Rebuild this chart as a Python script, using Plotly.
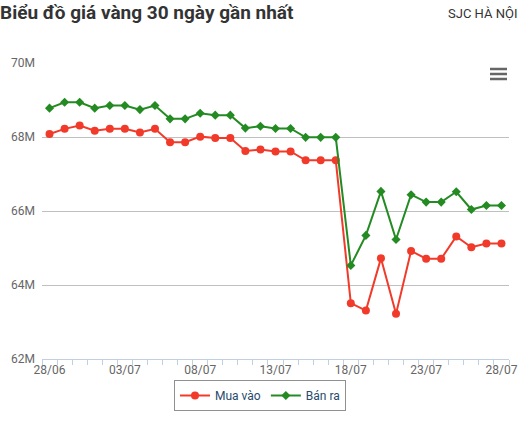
import plotly.graph_objects as go

dates = ["28/06", "29/06", "30/06", "01/07", "02/07", "03/07", "04/07", "05/07", "06/07", "07/07",
         "08/07", "09/07", "10/07", "11/07", "12/07", "13/07", "14/07", "15/07", "16/07", "17/07",
         "18/07", "19/07", "20/07", "21/07", "22/07", "23/07", "24/07", "25/07", "26/07", "27/07", "28/07"]

mua_vao = [68.08, 68.22, 68.31, 68.17, 68.22, 68.22, 68.12, 68.22, 67.86, 67.86,
           68.01, 67.97, 67.97, 67.62, 67.66, 67.61, 67.61, 67.37, 67.37, 67.37,
           63.51, 63.31, 64.72, 63.22, 64.92, 64.71, 64.71, 65.31, 65.02, 65.12, 65.12]

ban_ra = [68.78, 68.94, 68.94, 68.78, 68.85, 68.85, 68.74, 68.85, 68.49, 68.49,
          68.64, 68.59, 68.59, 68.24, 68.29, 68.23, 68.23, 67.99, 67.99, 67.99,
          64.53, 65.34, 66.53, 65.23, 66.44, 66.24, 66.24, 66.52, 66.04, 66.15, 66.15]

y_ticks = [62, 64, 66, 68, 70]
y_tick_labels = ["62M", "64M", "66M", "68M", "70M"]
x_tick_labels = [d if i % 5 == 0 else "" for i, d in enumerate(dates)]

title_text = "Biểu đồ giá vàng 30 ngày gần nhất"
subtitle_text = "SJC HÀ NỘI"

RED = "#f23a2b"
GREEN = "#238b22"

fig = go.Figure()
fig.add_trace(go.Scatter(
    x=dates, y=mua_vao, name="Mua vào", mode="lines+markers",
    line=dict(color=RED, width=2),
    marker=dict(symbol="circle", size=8, color=RED),
))
fig.add_trace(go.Scatter(
    x=dates, y=ban_ra, name="Bán ra", mode="lines+markers",
    line=dict(color=GREEN, width=2),
    marker=dict(symbol="diamond", size=7, color=GREEN),
))

W, H = 520, 423
L, R, T, B = 42, 11, 63, 64
pw, ph = W - L - R, H - T - B

def px(x):
    return (x - L) / pw

def py(y):
    return (H - B - y) / ph

shapes = []
for yy in (69, 74, 79):
    shapes.append(dict(type="line", xref="paper", yref="paper",
                       x0=px(490), x1=px(507), y0=py(yy), y1=py(yy),
                       line=dict(color="#666666", width=2.5)))

fig.update_layout(
    width=W, height=H,
    margin=dict(l=L, r=R, t=T, b=B, autoexpand=False),
    paper_bgcolor="white", plot_bgcolor="white",
    font=dict(family="Roboto", size=12, color="#666666"),
    title=dict(text=title_text, x=0, xref="container", xanchor="left",
               y=1 - 12 / H, yref="container", yanchor="middle",
               font=dict(family="Roboto", size=19, color="#333333", weight="bold")),
    annotations=[dict(text=subtitle_text, xref="paper", yref="paper",
                      x=px(519), y=py(13), xanchor="right", yanchor="middle",
                      showarrow=False,
                      font=dict(family="Roboto", size=13, color="#333333"))],
    xaxis=dict(
        type="category", categoryorder="array", categoryarray=dates,
        range=[-0.5, len(dates) - 0.5],
        tickvals=dates, ticktext=x_tick_labels, tickson="boundaries",
        tickangle=0,
        ticks="outside", ticklen=5, tickcolor="#c0d0e0", tickwidth=1,
        showline=True, linecolor="#c0d0e0", linewidth=1,
        showgrid=False, zeroline=False,
        tickfont=dict(family="Roboto", size=12, color="#666666"),
        fixedrange=True, automargin=False,
    ),
    yaxis=dict(
        range=[62, 70], tickvals=y_ticks, ticktext=y_tick_labels,
        showgrid=True, gridcolor="#c0c0c0", gridwidth=1,
        zeroline=False, showline=False, ticks="",
        ticklabelstandoff=6,
        tickfont=dict(family="Roboto", size=12, color="#666666"),
        fixedrange=True, automargin=False,
    ),
    legend=dict(
        orientation="h", xref="container", x=0.5, xanchor="center",
        yref="container", y=(H - 395.5) / H, yanchor="middle",
        bordercolor="#909090", borderwidth=1,
        font=dict(family="Roboto", size=12, color="#274b6d"),
        itemwidth=30,
    ),
    shapes=shapes,
    showlegend=True,
)

fig.write_html("out.html", config={"displayModeBar": False},
               post_script="document.body.style.margin='0';")
